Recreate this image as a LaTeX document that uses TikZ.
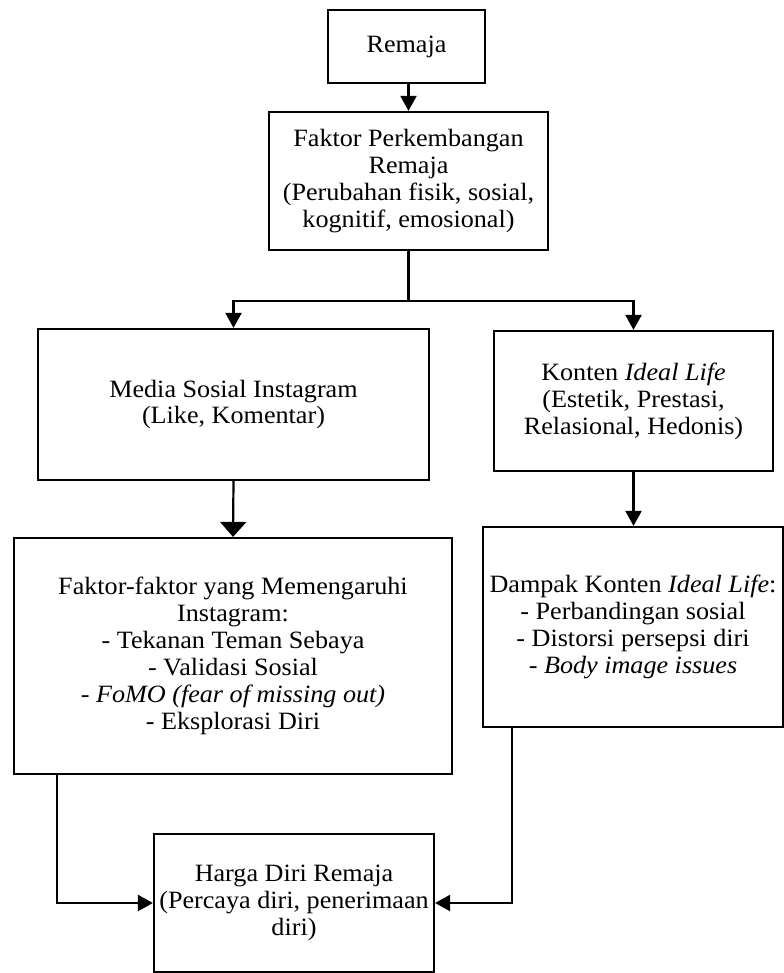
\documentclass[tikz,border=0pt]{standalone}
\usepackage{fontspec}
\setmainfont{Liberation Serif}[FakeStretch=1.05]
\usetikzlibrary{arrows.meta}
\begin{document}
\begin{tikzpicture}[x=1bp,y=-1bp,
  box/.style={draw, line width=2.2bp, align=center, inner sep=2bp, font=\fontsize{25}{27}\selectfont},
  ln/.style={line width=2.2bp},
  arr/.style={line width=2.2bp, -{Triangle[length=15bp,width=16bp]}},
  bigarr/.style={line width=2.2bp, -{Triangle[length=15bp,width=26bp]}}]
\useasboundingbox[fill=white] (0,0) rectangle (784,973);

\node[box, minimum width=157bp, minimum height=73bp] (remaja) at (406.5,46.5) {Remaja};
\node[box, minimum width=279bp, minimum height=138bp] (fp) at (408.5,181)
  {Faktor Perkembangan\\ Remaja\\ (Perubahan fisik, sosial,\\ kognitif, emosional)};
\node[box, minimum width=391bp, minimum height=151bp] (media) at (233.5,404.5)
  {Media Sosial Instagram\\ (Like, Komentar)};
\node[box, minimum width=279bp, minimum height=140bp] (konten) at (633.5,401)
  {Konten \textit{Ideal Life}\\ (Estetik, Prestasi,\\ Relasional, Hedonis)};
\node[box, minimum width=438bp, minimum height=236bp] (ff) at (233,656)
  {Faktor-faktor yang Memengaruhi\\ Instagram:\\ - Tekanan Teman Sebaya\\ - Validasi Sosial\\ - \textit{FoMO (fear of missing out)}\\ - Eksplorasi Diri};
\node[box, minimum width=300bp, minimum height=200bp] (dampak) at (633,627)
  {Dampak Konten \textit{Ideal Life}:\\ - Perbandingan sosial\\ - Distorsi persepsi diri\\ - \textit{Body image issues}};
\node[box, minimum width=280bp, minimum height=138bp] (harga) at (294,903)
  {Harga Diri Remaja\\ (Percaya diri, penerimaan\\ diri)};

\coordinate (j) at (408.5,301);
\draw[arr] (remaja.south -| fp.north) -- (fp.north);
\draw[ln] (fp.south) -- (j);
\draw[arr] (j) -| (media.north);
\draw[arr] (j) -| (konten.north);
\draw[bigarr] (media.south) -- (ff.north);
\draw[arr] (konten.south) -- (konten.south |- dampak.north);
\draw[arr] ([xshift=44bp]ff.south west) |- (harga.west);
\draw[arr] ([xshift=30bp]dampak.south west) |- (harga.east);
\end{tikzpicture}
\end{document}
